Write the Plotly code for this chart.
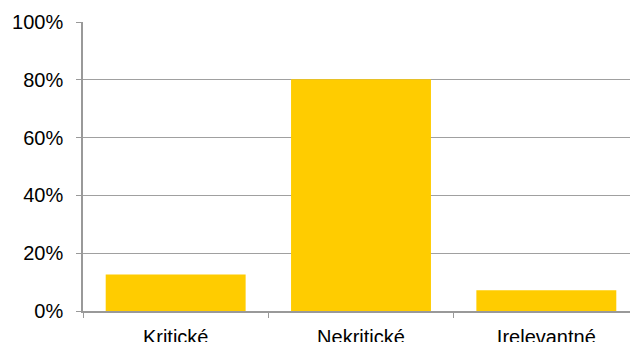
import plotly.graph_objects as go

categories = ["Kritické", "Nekritické", "Irelevantné"]
values = [12.6, 80.2, 7.2]
y_tickvals = [0, 20, 40, 60, 80, 100]
y_ticktext = ["0%", "20%", "40%", "60%", "80%", "100%"]

fig = go.Figure(
    go.Bar(
        x=categories,
        y=values,
        marker=dict(color="#FFCC00", line=dict(width=0)),
        width=0.755,
    )
)

# page body has an 8px default margin; compensate so the plot lands where the reference has it
fig.update_layout(
    width=631,
    height=334,
    margin=dict(l=75, r=0, t=14, b=31, autoexpand=False),
    paper_bgcolor="white",
    plot_bgcolor="white",
    showlegend=False,
    font=dict(family="Liberation Sans, Arial, sans-serif", size=20, color="black"),
)

fig.update_xaxes(
    type="category",
    automargin=False,
    showline=True,
    linecolor="#999999",
    linewidth=1.5,
    ticks="outside",
    tickson="boundaries",
    ticklen=5,
    tickcolor="#999999",
    showgrid=False,
    ticklabelstandoff=7,
    tickfont=dict(size=20, color="black"),
)

fig.update_yaxes(
    range=[0, 100],
    automargin=False,
    tickvals=y_tickvals,
    ticktext=y_ticktext,
    showline=True,
    linecolor="#999999",
    linewidth=1.5,
    ticks="outside",
    ticklen=5,
    tickcolor="#999999",
    showgrid=True,
    gridcolor="#A0A0A0",
    gridwidth=1,
    zeroline=False,
    ticklabelstandoff=9,
    tickfont=dict(size=20, color="black"),
)

fig.write_html("out.html")
